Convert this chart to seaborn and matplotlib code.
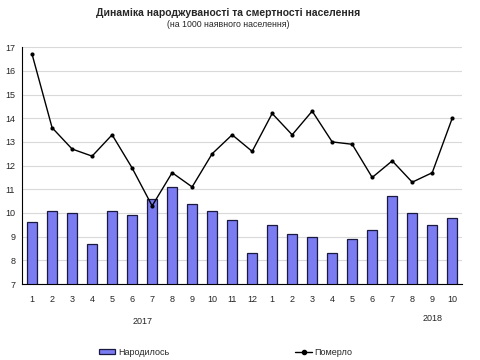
import numpy as np
import pandas as pd
import matplotlib
matplotlib.use("Agg")
import matplotlib.pyplot as plt
import matplotlib.transforms as mtransforms
from matplotlib.patches import Patch
from matplotlib.lines import Line2D
import seaborn as sns

# ── Data ──────────────────────────────────────────────────
months = ["1", "2", "3", "4", "5", "6", "7", "8", "9", "10", "11", "12",
          "1", "2", "3", "4", "5", "6", "7", "8", "9", "10"]
births = [9.6, 10.1, 10.0, 8.7, 10.1, 9.9, 10.6, 11.1, 10.4, 10.1, 9.7, 8.3,
          9.5, 9.1, 9.0, 8.3, 8.9, 9.3, 10.7, 10.0, 9.5, 9.8]
deaths = [16.7, 13.6, 12.7, 12.4, 13.3, 11.9, 10.3, 11.7, 11.1, 12.5, 13.3, 12.6,
          14.2, 13.3, 14.3, 13.0, 12.9, 11.5, 12.2, 11.3, 11.7, 14.0]
years = ["2017", "2018"]

df = pd.DataFrame({"pos": np.arange(len(months)), "births": births, "deaths": deaths})

BAR_COLOR = "#7b7bf2"

sns.set_style("white")
plt.rcParams["font.family"] = ["Liberation Sans", "DejaVu Sans"]

fig = plt.figure(figsize=(4.8, 3.6), dpi=100)
ax = fig.add_axes([0.046, 0.211, 0.917, 0.658])

sns.barplot(data=df, x="pos", y="births", color=BAR_COLOR, width=0.5,
            edgecolor="#1a1a40", linewidth=0.9, saturation=1, ax=ax, zorder=2)
sns.lineplot(data=df, x="pos", y="deaths", color="black", linewidth=1.0,
             marker="o", markersize=3, markeredgewidth=0, ax=ax, zorder=3)

ax.set_ylim(7, 17)
ax.set_xlim(-0.5, len(months) - 0.5)
ax.set_yticks(range(7, 18))
ax.yaxis.grid(True, color="#d9d9d9", linewidth=0.8)
ax.set_axisbelow(True)

ax.set_xticks(range(len(months)))
ax.set_xticklabels(months)
ax.set_xticks(np.arange(-0.5, len(months), 1), minor=True)
ax.tick_params(axis="x", which="major", length=0, pad=8, labelsize=6.5)
ax.tick_params(axis="x", which="minor", length=3, width=0.8, color="black", direction="out")
ax.tick_params(axis="y", length=3, width=0.8, color="black", direction="out", pad=2, labelsize=6.5)
ax.set_xlabel("")
ax.set_ylabel("")

for side in ["top", "right"]:
    ax.spines[side].set_visible(False)
for side in ["left", "bottom"]:
    ax.spines[side].set_color("black")
    ax.spines[side].set_linewidth(0.8)

trans = mtransforms.blended_transform_factory(ax.transData, fig.transFigure)
ax.text(5.5, 0.108, years[0], transform=trans, ha="center", va="center", fontsize=6.5)
ax.text(20.0, 0.115, years[1], transform=trans, ha="center", va="center", fontsize=6.5)

fig.text(0.475, 0.965, "Динаміка народжуваності та смертності населення",
         ha="center", va="center", fontsize=7.5, fontweight="bold")
fig.text(0.475, 0.932, "(на 1000 наявного населення)", ha="center", va="center", fontsize=6.3)

handles = [Patch(facecolor=BAR_COLOR, edgecolor="#1a1a40", linewidth=0.9),
           Line2D([0], [0], color="black", linewidth=1.0, marker="o", markersize=3)]
fig.legend(handles, ["Народилось", "Померло"], loc="center", bbox_to_anchor=(0.47, 0.022),
           ncol=2, frameon=False, fontsize=6.5, columnspacing=14, handlelength=1.8,
           handletextpad=0.3, handleheight=0.6)

fig.savefig("out.png", dpi=100)
